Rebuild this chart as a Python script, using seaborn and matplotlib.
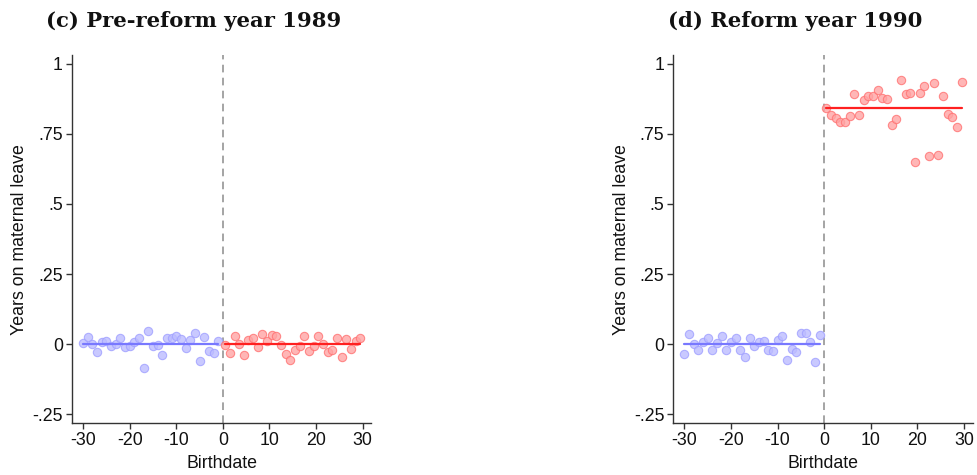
import numpy as np
import pandas as pd
import matplotlib
matplotlib.use("Agg")
import matplotlib.pyplot as plt
import seaborn as sns

sns.set_style("white")
plt.rcParams['font.family'] = ['Liberation Sans', 'DejaVu Sans']

# ---- data ----
x_before = list(range(-30, 0))
x_after = [0.5 + i for i in range(30)]

c_before = [0.005, 0.025, -0.001, -0.027, 0.006, 0.012, -0.006, 0.001, 0.021, -0.012,
            -0.007, 0.007, 0.020, -0.085, 0.045, -0.007, -0.002, -0.038, 0.023, 0.023,
            0.030, 0.019, -0.014, 0.014, 0.039, -0.062, 0.025, -0.026, -0.031, 0.012]
c_after = [-0.004, -0.031, 0.030, 0.000, -0.038, 0.015, 0.023, -0.011, 0.035, 0.012,
           0.032, 0.029, -0.005, -0.037, -0.056, -0.023, -0.007, 0.028, -0.025, -0.007,
           0.030, 0.000, -0.029, -0.020, 0.023, -0.048, 0.019, -0.018, 0.010, 0.020]
d_before = [-0.036, 0.035, 0.001, -0.023, 0.007, 0.023, -0.021, 0.005, 0.030, -0.020,
            0.006, 0.020, -0.020, -0.045, 0.021, -0.006, 0.006, 0.010, -0.020, -0.025,
            0.014, 0.029, -0.056, -0.019, -0.027, 0.040, 0.040, 0.007, -0.064, 0.032]
d_after = [0.842, 0.818, 0.808, 0.793, 0.794, 0.813, 0.892, 0.818, 0.870, 0.886,
           0.886, 0.906, 0.880, 0.875, 0.781, 0.805, 0.944, 0.891, 0.898, 0.651,
           0.898, 0.920, 0.670, 0.933, 0.674, 0.887, 0.823, 0.810, 0.775, 0.935]

fit_c = [0.0, 0.0]      # before, after
fit_d = [0.0, 0.844]

titles = ["(c) Pre-reform year 1989", "(d) Reform year 1990"]
yticks = [-0.25, 0, 0.25, 0.5, 0.75, 1]
yticklabels = ["-.25", "0", ".25", ".5", ".75", "1"]
xticks = [-30, -20, -10, 0, 10, 20, 30]

W, H = 977, 475
fig = plt.figure(figsize=(W / 100, H / 100), dpi=100)

panels = [
    (c_before, c_after, fit_c, titles[0], 72, 194, 20),
    (d_before, d_after, fit_d, titles[1], 673.3, 795, 621),
]

blue_pt = "#bcbcff"
blue_edge = "#a0a0ff"
red_pt = "#ffa4a4"
red_edge = "#ff7272"
blue_line = "#7878ff"
red_line = "#ff2020"
FS = 12.8

for before, after, fit, title, left_px, title_px, ylab_px in panels:
    ax = fig.add_axes([left_px / W, 1 - 423 / H, 299.4 / W, 368 / H])
    dfb = pd.DataFrame({"x": x_before, "y": before})
    dfa = pd.DataFrame({"x": x_after, "y": after})
    ax.axvline(0, color="#8c8c8c", lw=1.1, ls=(0, (5, 3.5)), zorder=1)
    lb = pd.DataFrame({"x": [x_before[0], x_before[-1]], "y": [fit[0], fit[0]]})
    la = pd.DataFrame({"x": [x_after[0], x_after[-1]], "y": [fit[1], fit[1]]})
    sns.scatterplot(data=dfb, x="x", y="y", ax=ax, s=36, color=blue_pt,
                    edgecolor=blue_edge, linewidth=0.8, alpha=0.8, zorder=2)
    sns.scatterplot(data=dfa, x="x", y="y", ax=ax, s=36, color=red_pt,
                    edgecolor=red_edge, linewidth=0.8, alpha=0.8, zorder=2)
    sns.lineplot(data=lb, x="x", y="y", ax=ax, color=blue_line, lw=1.6, zorder=3)
    sns.lineplot(data=la, x="x", y="y", ax=ax, color=red_line, lw=1.6, zorder=3)

    ax.set_xlim(-32.4, 31.9)
    ax.set_ylim(-0.282, 1.032)
    ax.set_xticks(xticks)
    ax.set_xticklabels([str(t) for t in xticks])
    ax.set_yticks(yticks)
    ax.set_yticklabels(yticklabels)
    for s in ["top", "right"]:
        ax.spines[s].set_visible(False)
    for s in ["left", "bottom"]:
        ax.spines[s].set_color("#333333")
        ax.spines[s].set_linewidth(1.0)
    ax.tick_params(axis="both", which="both", direction="out", length=4.5, width=1.0,
                   color="#333333", labelsize=FS, pad=2, bottom=True, left=True,
                   labelcolor="#111111")
    ax.set_xlabel("Birthdate", fontsize=FS, color="#111111", labelpad=4)
    ax.set_ylabel("")
    fig.text(ylab_px / W, 1 - 240 / H, "Years on maternal leave",
             rotation=90, ha="center", va="center", fontsize=FS, color="#111111")
    fig.text(title_px / W, 1 - 21 / H, title, ha="center", va="center",
             fontsize=15.2, fontweight="bold", family="DejaVu Serif", color="#111111")

fig.savefig("out.png", dpi=100)
